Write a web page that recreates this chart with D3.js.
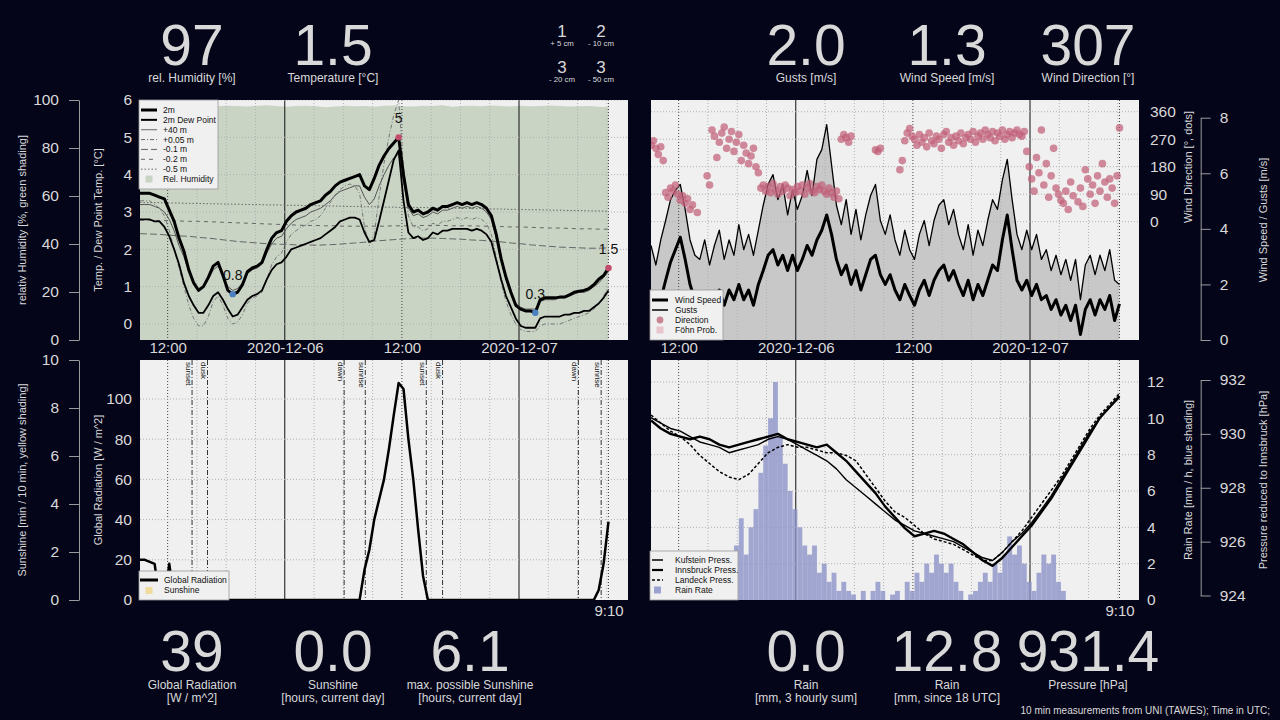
<!DOCTYPE html>
<html><head><meta charset="utf-8">
<script src="https://cdn.jsdelivr.net/npm/d3@7"></script>
<style>
html,body{margin:0;padding:0;background:#05051a;}
svg{display:block;font-family:"Liberation Sans",Arial,Helvetica,sans-serif;}
</style></head><body>
<svg id="c" width="1280" height="720"></svg>
<script>
// ---------- DATA (30-min series start 2020-12-05 09:10 UTC) ----------
const temp2m = [3.5,3.5,3.5,3.45,3.4,3.35,3.05,2.75,2.3,1.95,1.45,1.1,0.9,1.0,1.25,1.55,1.65,1.3,0.9,0.8,0.85,1.05,1.4,1.5,1.55,1.65,2.0,2.3,2.45,2.5,2.75,2.9,3.0,3.05,3.1,3.2,3.25,3.3,3.45,3.55,3.7,3.8,3.85,3.9,3.95,4.0,3.7,3.6,3.9,4.25,4.5,4.7,4.85,5.0,4.0,3.2,3.0,3.05,2.95,3.0,3.1,3.05,3.15,3.15,3.2,3.25,3.2,3.25,3.2,3.25,3.2,3.1,2.9,2.4,1.75,1.25,0.85,0.5,0.4,0.35,0.35,0.3,0.65,0.7,0.7,0.7,0.72,0.72,0.78,0.85,0.88,0.9,0.95,1.05,1.2,1.3,1.5];
const dewPoint = [2.8,2.8,2.8,2.75,2.75,2.6,2.35,2.0,1.6,1.1,0.75,0.5,0.3,0.3,0.5,0.75,0.85,0.65,0.4,0.2,0.25,0.45,0.65,0.75,0.8,0.9,1.2,1.45,1.6,1.65,1.8,2.0,2.05,2.1,2.15,2.2,2.25,2.3,2.4,2.5,2.6,2.75,2.8,2.85,2.85,2.8,2.45,2.2,2.25,2.75,3.3,3.85,4.4,4.65,3.3,2.45,2.3,2.35,2.25,2.3,2.45,2.4,2.5,2.5,2.55,2.55,2.55,2.55,2.5,2.55,2.5,2.4,2.2,1.7,1.2,0.75,0.45,0.15,-0.05,-0.1,-0.1,-0.1,0.15,0.2,0.2,0.2,0.2,0.25,0.25,0.3,0.3,0.35,0.35,0.45,0.55,0.7,0.9];
const temp40m = [3.2,3.2,3.2,3.15,3.1,3.0,2.8,2.5,2.1,1.8,1.4,1.1,0.95,1.0,1.2,1.45,1.55,1.3,1.0,0.9,0.95,1.1,1.35,1.45,1.5,1.6,1.9,2.15,2.3,2.35,2.55,2.7,2.8,2.85,2.9,3.0,3.05,3.1,3.2,3.3,3.45,3.55,3.6,3.65,3.7,3.7,3.4,3.2,3.35,3.7,4.0,4.25,4.45,4.55,3.8,3.1,2.9,2.95,2.85,2.9,3.0,2.95,3.05,3.05,3.1,3.15,3.1,3.15,3.1,3.15,3.1,3.0,2.8,2.3,1.7,1.2,0.85,0.55,0.45,0.4,0.4,0.4,0.6,0.65,0.65,0.65,0.7,0.7,0.75,0.8,0.85,0.85,0.9,1.0,1.1,1.25,1.4];
const temp5cm = [3.3,3.3,3.3,3.2,3.1,2.9,2.5,2.0,1.5,1.0,0.5,0.15,-0.05,-0.05,0.2,0.6,0.75,0.5,0.15,0.0,0.05,0.25,0.55,0.7,0.75,0.85,1.2,1.6,1.8,1.9,2.2,2.4,2.5,2.6,2.65,2.75,2.8,2.9,3.1,3.25,3.45,3.6,3.7,3.75,3.7,3.5,2.6,2.1,2.4,3.4,4.3,5.0,5.6,6.0,4.2,2.9,2.6,2.6,2.5,2.55,2.7,2.65,2.75,2.75,2.8,2.85,2.8,2.85,2.8,2.85,2.8,2.7,2.4,1.8,1.1,0.6,0.25,0.0,-0.15,-0.2,-0.2,-0.2,-0.05,0.0,0.0,0.0,0.0,0.05,0.1,0.15,0.2,0.25,0.3,0.4,0.55,0.75,1.0];
const windSpeed = [1.45,0.9,1.45,2.15,2.8,3.25,3.7,2.9,2.0,1.45,1.25,1.6,1.1,1.45,1.8,1.25,1.8,1.45,2.0,1.45,1.8,1.25,2.0,2.5,3.05,3.25,2.7,3.05,2.5,3.05,2.5,2.9,3.4,3.05,3.6,3.95,4.5,3.8,2.9,2.35,2.7,2.0,2.5,1.8,2.35,2.9,3.05,2.35,2.0,2.35,1.8,1.45,2.0,1.6,1.25,1.8,2.15,1.6,2.15,2.5,2.7,2.15,2.5,2.0,1.6,2.15,1.45,2.0,1.6,2.15,2.7,2.5,3.6,4.5,3.25,2.15,1.8,2.15,1.6,2.0,1.45,1.6,1.1,1.45,0.9,1.25,0.7,1.25,0.2,1.1,1.45,0.9,1.45,1.1,1.6,0.7,1.3];
const gusts = [3.4,2.7,3.6,4.3,5.05,5.4,5.6,4.7,3.6,3.05,2.9,3.6,2.7,3.4,3.95,2.9,3.6,3.05,4.15,3.25,3.8,3.05,3.95,4.85,5.6,5.95,5.05,5.6,4.5,5.4,4.7,5.2,6.1,5.2,6.5,6.85,7.75,6.3,4.85,4.15,5.05,3.8,4.7,3.6,4.5,5.2,5.6,4.3,3.8,4.5,3.6,3.05,3.95,3.25,2.9,3.8,4.3,3.4,4.3,4.85,5.05,4.15,4.7,3.8,3.25,4.15,3.05,3.95,3.4,4.3,5.05,4.7,5.75,6.5,5.05,3.8,3.25,3.95,3.25,3.8,2.9,3.25,2.5,3.05,2.35,2.9,2.15,2.9,1.45,2.7,3.05,2.35,3.05,2.5,3.25,2.15,2.0];
const rainRate = [0,0,0,0,0,0,0,0,0,0,0,0,0,0,0,0,1.5,3,4.5,2.5,4,5,7,8.5,10,12,9,7.5,6,5,4,3,2.5,3,1.5,2,1,1.5,0.5,1,0.5,0.3,0,0.5,0,0.5,1,0.5,0,0.3,0.5,0,1,0.5,1.5,1,2,1.5,2.5,2,1.5,2,1,0.5,0,0.3,0.5,1,1.5,1,2,1.5,2.5,3.5,2.5,3,2,1,0.5,1.5,2.5,2,2.5,1,0.5,0,0,0,0,0,0,0,0,0,0,0,0];
const globalRad = [20,20,19,18,0,0,18,0,0,0,0,0,0,0,0,0,0,0,0,0,0,0,0,0,0,0,0,0,0,0,0,0,0,0,0,0,0,0,0,0,0,0,0,0,0,0,15,25,40,50,60,75,92,108,105,80,60,35,12,0,0,0,0,0,0,0,0,0,0,0,0,0,0,0,0,0,0,0,0,0,0,0,0,0,0,0,0,0,0,0,0,0,0,0,5,18,39];
// 15-min wind direction
const windDir = [250,265,240,220,245,200,95,80,110,100,
 120,90,70,85,60,75,40,55,null,30,
 null,null,null,150,120,300,280,210,260,290,
 310,240,270,295,230,260,285,200,250,225,
 190,215,240,180,160,110,120,100,115,95,
 125,105,90,115,100,120,110,85,105,95,
 115,100,120,90,110,125,100,95,115,105,
 120,100,90,110,95,80,100,75,270,285,
 275,260,280,null,null,null,null,null,null,null,
 null,null,235,230,240,null,null,null,null,null,
 null,null,170,200,265,290,305,280,270,250,
 285,260,275,245,290,265,255,280,270,240,
 285,295,260,275,250,280,265,290,255,275,
 285,270,295,260,280,290,270,300,285,275,
 295,265,290,280,300,270,285,295,275,290,
 300,285,280,295,230,180,140,100,210,160,
 300,120,190,80,150,240,110,90,70,60,
 100,40,130,85,null,65,110,50,170,140,
 90,120,60,150,100,190,130,80,140,110,
 60,150,307];
// hourly series
const humidity = [96.0,96.2,96.0,96.5,96.8,97.0,97.2,97.5,97.4,97.6,97.5,97.3,97.6,97.8,97.5,97.2,97.5,97.6,97.4,97.0,97.3,97.6,97.4,97.5,97.2,97.6,97.7,97.4,97.3,97.6,97.5,97.8,97.2,97.5,97.6,97.4,97.7,97.5,97.3,97.6,97.4,97.5,97.7,97.5,97.3,97.4,97.5,97.2,97.0];
const soil10 = [2.42,2.41,2.40,2.38,2.36,2.35,2.32,2.30,2.27,2.24,2.21,2.19,2.17,2.15,2.14,2.13,2.12,2.12,2.11,2.12,2.13,2.15,2.17,2.19,2.22,2.24,2.26,2.28,2.29,2.30,2.30,2.29,2.28,2.27,2.25,2.24,2.22,2.20,2.17,2.15,2.12,2.10,2.08,2.06,2.05,2.04,2.03,2.03,2.04];
const soil20 = [2.78,2.78,2.77,2.77,2.76,2.75,2.75,2.74,2.73,2.72,2.71,2.70,2.69,2.68,2.67,2.66,2.65,2.64,2.64,2.63,2.63,2.62,2.62,2.62,2.62,2.62,2.63,2.63,2.63,2.64,2.64,2.64,2.63,2.63,2.63,2.62,2.62,2.61,2.60,2.60,2.59,2.58,2.57,2.57,2.56,2.55,2.55,2.54,2.54];
const soil50 = [3.26,3.25,3.25,3.24,3.24,3.23,3.23,3.22,3.22,3.21,3.21,3.20,3.20,3.19,3.19,3.18,3.18,3.17,3.17,3.16,3.16,3.15,3.15,3.14,3.14,3.13,3.13,3.12,3.12,3.12,3.11,3.11,3.10,3.10,3.09,3.09,3.08,3.08,3.07,3.07,3.06,3.06,3.05,3.05,3.04,3.04,3.03,3.03,3.02];
const sunshine = [0,0,0,0,0,0,0,0,0,0,0,0,0,0,0,0,0,0,0,0,0,0,0,0,0,0,0,0,0,0,0,0,0,0,0,0,0,0,0,0,0,0,0,0,0,0,0,0,0];
const pressKufstein = [930.6,930.4,930.2,930.1,929.9,929.7,929.6,929.5,929.3,929.4,929.5,929.6,929.8,929.9,929.8,929.6,929.4,929.2,929.0,928.7,928.3,928.0,927.7,927.4,927.1,926.8,926.6,926.4,926.3,926.2,926.1,926.0,925.8,925.6,925.4,925.3,925.6,926.0,926.3,926.7,927.2,927.7,928.3,928.9,929.5,930.1,930.6,931.0,931.35];
const pressInnsbruck = [930.5,930.2,930.0,929.9,929.8,929.9,929.8,929.6,929.5,929.6,929.7,929.8,929.9,930.0,929.8,929.7,929.6,929.5,929.6,929.3,929.0,928.6,928.2,927.8,927.3,926.9,926.5,926.2,926.3,926.4,926.3,926.1,925.9,925.6,925.3,925.1,925.4,925.8,926.2,926.6,927.1,927.6,928.2,928.8,929.4,930.0,930.6,931.0,931.4];
const pressLandeck = [930.7,930.4,930.1,929.9,929.6,929.2,928.9,928.6,928.4,928.3,928.5,928.9,929.3,929.5,929.6,929.5,929.5,929.4,929.3,929.3,929.2,929.0,928.5,928.0,927.5,927.1,926.9,926.6,926.3,926.1,926.0,925.9,925.7,925.5,925.3,925.3,925.6,926.0,926.4,926.9,927.4,927.9,928.4,929.0,929.6,930.2,930.7,931.1,931.5];
// sun events (UTC) and summary values
const sunEvents = ["2020-12-05T14:30Z","2020-12-05T16:05Z","2020-12-06T06:05Z","2020-12-06T08:15Z","2020-12-06T14:30Z","2020-12-06T16:10Z","2020-12-07T06:05Z","2020-12-07T08:25Z"];
const sunLabels = ["sunset","dusk","dawn","sunrise","sunset","dusk","dawn","sunrise"];
const summaryValues = {sunshineDay:0.0, maxSunshine:6.1, rain3h:0.0, rain18:12.8};

// ---------- SETUP ----------
const svg = d3.select('#c');
const FG = '#d9d9d9';
const T0 = Date.UTC(2020,11,5,9,10), HR = 3600000;
const t30 = temp2m.map((d,i)=> new Date(T0 + i*HR/2));
const t15 = windDir.map((d,i)=> new Date(T0 + i*HR/4));
const t60 = humidity.map((d,i)=> new Date(T0 + i*HR));
const NOW = t30[t30.length-1];
const dom = [new Date(T0), new Date(T0 + 50*HR)];
const xL = d3.scaleUtc().domain(dom).range([140,628]);
const xR = d3.scaleUtc().domain(dom).range([651,1139]);
const TOP=[100,340], BOT=[360,600];

const yHum = d3.scaleLinear().domain([0,100]).range([340,100]);
const yTemp = d3.scaleLinear().domain([0,6]).range([324,100]);
const yWind = d3.scaleLinear().domain([0,8]).range([340,117.7]);
const yDir = d3.scaleLinear().domain([0,360]).range([221.7,111.7]);
const ySun = d3.scaleLinear().domain([0,10]).range([600,360]);
const yRad = d3.scaleLinear().domain([0,100]).range([600,399]);
const yRain = d3.scaleLinear().domain([0,12]).range([600,382]);
const yPres = d3.scaleLinear().domain([924,932]).range([595.5,380]);

svg.append('rect').attr('width',1280).attr('height',720).attr('fill','#05051a');

function panel(x, yr, id){
  const [x0,x1]=x.range();
  svg.append('rect').attr('x',x0).attr('y',yr[0]).attr('width',x1-x0).attr('height',yr[1]-yr[0]).attr('fill','#f0f0f0');
  svg.append('clipPath').attr('id',id).append('rect').attr('x',x0).attr('y',yr[0]).attr('width',x1-x0).attr('height',yr[1]-yr[0]);
  return svg.append('g').attr('clip-path',`url(#${id})`);
}
function vgrid(g, x, yr){
  const h3 = d3.utcHour.every(3).range(dom[0], dom[1]);
  g.selectAll(null).data(h3).join('line').attr('x1',d=>x(d)).attr('x2',d=>x(d)).attr('y1',yr[0]).attr('y2',yr[1])
    .attr('stroke', d=> d.getUTCHours()===0 ? '#111' : (d.getUTCHours()===12 ? '#444' : '#b0b0b0'))
    .attr('stroke-width',1).attr('stroke-dasharray', d=> d.getUTCHours()===0 ? null : '1,2');
  g.append('line').attr('x1',x(NOW)).attr('x2',x(NOW)).attr('y1',yr[0]).attr('y2',yr[1]).attr('stroke','#444').attr('stroke-dasharray','1,2');
}
function hgrid(g, x, y, vals){
  const [x0,x1]=x.range();
  g.selectAll(null).data(vals).join('line').attr('x1',x0).attr('x2',x1).attr('y1',d=>y(d)).attr('y2',d=>y(d))
    .attr('stroke','#b0b0b0').attr('stroke-dasharray','1,2');
}
function path(g, xs, ys, x, y, opt){
  const line = d3.line().defined(d=>d[1]!=null).x(d=>x(d[0])).y(d=>y(d[1]));
  g.append('path').datum(xs.map((t,i)=>[t,ys[i]])).attr('d',line).attr('fill','none')
    .attr('stroke',opt.c||'#000').attr('stroke-width',opt.w||1).attr('stroke-dasharray',opt.dash||null)
    .attr('stroke-linejoin','round');
}
function styleAxis(g, size){
  g.selectAll('text').attr('fill',FG).style('font-size',(size||15.5)+'px').style('font-family','"Liberation Sans",Arial,sans-serif');
  g.selectAll('line').attr('stroke','#9a9a9a');
  g.selectAll('path.domain').attr('stroke','#9a9a9a');
}
function outerAxis(axisFn, y, xpos, vals, right){
  const a = axisFn(y).tickValues(vals).tickSize(10).tickSizeOuter(0).tickPadding(right?9:10).tickFormat(d3.format('d'));
  const g = svg.append('g').attr('transform',`translate(${xpos},0)`).call(a);
  styleAxis(g);
}
function innerAxis(axisFn, y, xpos, vals, pad){
  const a = axisFn(y).tickValues(vals).tickSize(0).tickPadding(pad).tickFormat(d3.format('d'));
  const g = svg.append('g').attr('transform',`translate(${xpos},0)`).call(a);
  g.select('.domain').remove();
  styleAxis(g);
}
function vtitle(txt, x, y){
  svg.append('text').attr('transform',`translate(${x},${y}) rotate(-90)`).attr('text-anchor','middle').attr('dy','0.35em')
    .attr('fill',FG).style('font-size','11px').text(txt);
}
function legend(box, rowY, sx, tx, items){
  const g = svg.append('g');
  g.append('rect').attr('x',box[0]).attr('y',box[1]).attr('width',box[2]-box[0]).attr('height',box[3]-box[1])
    .attr('fill','#f0f0f0').attr('stroke','#9a9a9a').attr('stroke-width',0.8);
  items.forEach((it,k)=>{
    const yy = rowY[0] + k*rowY[1];
    if(it.type==='line') g.append('line').attr('x1',sx[0]).attr('x2',sx[1]).attr('y1',yy).attr('y2',yy)
      .attr('stroke',it.c).attr('stroke-width',it.w).attr('stroke-dasharray',it.dash||null);
    else if(it.type==='dot') g.append('circle').attr('cx',(sx[0]+sx[1])/2).attr('cy',yy).attr('r',3.4).attr('fill',it.c);
    else g.append('rect').attr('x',(sx[0]+sx[1])/2-3.5).attr('y',yy-3.5).attr('width',7).attr('height',7).attr('fill',it.c);
    g.append('text').attr('x',tx).attr('y',yy).attr('dy','0.35em').attr('fill','#111').style('font-size','8.5px').text(it.label);
  });
}
function timeLabels(x){
  const ticks = d3.utcHour.every(12).range(dom[0], dom[1]);
  const a = d3.axisBottom(x).tickValues(ticks).tickSize(0).tickPadding(2)
    .tickFormat(d => d.getUTCHours()===0 ? d3.utcFormat('%Y-%m-%d')(d) : d3.utcFormat('%H:%M')(d));
  const g = svg.append('g').attr('transform','translate(0,340)').call(a);
  g.select('.domain').remove(); styleAxis(g, 15);
}
function nowLabel(x){
  const a = d3.axisBottom(x).tickValues([NOW]).tickSize(0).tickPadding(5).tickFormat(d3.utcFormat('%-H:%M'));
  const g = svg.append('g').attr('transform','translate(0,600)').call(a);
  g.select('.domain').remove(); styleAxis(g, 15);
}

// ---------- TOP-LEFT: temperatures ----------
{
  const g = panel(xL, TOP, 'cpTL');
  g.append('path').datum(humidity.map((v,i)=>[t60[i],v]))
    .attr('d', d3.area().x(d=>xL(d[0])).y0(yHum(0)).y1(d=>yHum(d[1])))
    .attr('fill','#c9d4c5');
  vgrid(g, xL, TOP);
  hgrid(g, xL, yTemp, [0,1,2,3,4,5,6]);
  path(g, t60, soil50, xL, yTemp, {c:'#666', w:1, dash:'1.5,2'});
  path(g, t60, soil20, xL, yTemp, {c:'#666', w:1, dash:'4,4'});
  path(g, t60, soil10, xL, yTemp, {c:'#666', w:1, dash:'7,3'});
  path(g, t30, temp5cm, xL, yTemp, {c:'#777', w:1, dash:'4,2,1,2'});
  path(g, t30, temp40m, xL, yTemp, {c:'#555', w:1});
  path(g, t30, dewPoint, xL, yTemp, {c:'#000', w:1.8});
  path(g, t30, temp2m, xL, yTemp, {c:'#000', w:3});
  const iMin1 = d3.minIndex(temp2m.slice(0,40));
  const iMax = 30 + d3.maxIndex(temp2m.slice(30,70));
  const iMin2 = 60 + d3.minIndex(temp2m.slice(60));
  const iLast = temp2m.length-1;
  [[iMin1,'#4a7fc0'],[iMax,'#c24d6b'],[iMin2,'#4a7fc0'],[iLast,'#c24d6b']].forEach(([i,c])=>{
    const px = xL(t30[i]), py = yTemp(temp2m[i]);
    g.append('circle').attr('cx',px).attr('cy',py).attr('r',3.2).attr('fill',c);
    g.append('text').attr('x',px).attr('y',py-14).attr('text-anchor','middle').attr('fill','#111').style('font-size','14px')
      .text(String(+temp2m[i].toFixed(1)));
  });
  legend([139,100,218,189],[110,9.86],[141,157],163,[
    {label:'2m',type:'line',c:'#000',w:3},
    {label:'2m Dew Point',type:'line',c:'#000',w:2},
    {label:'+40 m',type:'line',c:'#666',w:1},
    {label:'+0.05 m',type:'line',c:'#666',w:1,dash:'4,2,1,2'},
    {label:'-0.1 m',type:'line',c:'#666',w:1,dash:'7,3'},
    {label:'-0.2 m',type:'line',c:'#666',w:1,dash:'4,4'},
    {label:'-0.5 m',type:'line',c:'#666',w:1,dash:'1.5,2'},
    {label:'Rel. Humidity',type:'square',c:'#c9d4c5'}]);
  outerAxis(d3.axisLeft, yHum, 79, [0,20,40,60,80,100]);
  innerAxis(d3.axisLeft, yTemp, 140, [0,1,2,3,4,5,6], 8);
  vtitle('relativ Humidity [%, green shading]', 22, 220);
  vtitle('Temp. / Dew Point Temp. [°C]', 98, 220);
  timeLabels(xL);
}

// ---------- TOP-RIGHT: wind ----------
{
  const g = panel(xR, TOP, 'cpTR');
  g.append('path').datum(gusts.map((v,i)=>[t30[i],v]))
    .attr('d', d3.area().x(d=>xR(d[0])).y0(yWind(0)).y1(d=>yWind(d[1]))).attr('fill','#c8c8c8');
  vgrid(g, xR, TOP);
  hgrid(g, xR, yDir, [0,90,180,270,360]);
  path(g, t30, gusts, xR, yWind, {c:'#000', w:1.3});
  path(g, t30, windSpeed, xR, yWind, {c:'#000', w:3});
  g.selectAll(null).data(windDir.map((v,i)=>[t15[i],v]).filter(d=>d[1]!=null)).join('circle')
    .attr('cx',d=>xR(d[0])).attr('cy',d=>yDir(d[1])).attr('r',3.8).attr('fill','#c06078').attr('fill-opacity',0.72);
  legend([650,290,723,340],[300,10],[652,668],675,[
    {label:'Wind Speed',type:'line',c:'#000',w:3},
    {label:'Gusts',type:'line',c:'#000',w:1.5},
    {label:'Direction',type:'dot',c:'#c98594'},
    {label:'Föhn Prob.',type:'square',c:'#e8c4cc'}]);
  innerAxis(d3.axisRight, yDir, 1139, [0,90,180,270,360], 11);
  outerAxis(d3.axisRight, yWind, 1200.7, [0,2,4,6,8], true);
  vtitle('Wind Direction [°, dots]', 1188, 167);
  vtitle('Wind Speed  / Gusts [m/s]', 1263, 220);
  timeLabels(xR);
}

// ---------- BOTTOM-LEFT: radiation ----------
{
  const g = panel(xL, BOT, 'cpBL');
  g.append('path').datum(sunshine.map((v,i)=>[t60[i],v]))
    .attr('d', d3.area().x(d=>xL(d[0])).y0(ySun(0)).y1(d=>ySun(d[1]))).attr('fill','#f0dc9c');
  vgrid(g, xL, BOT);
  hgrid(g, xL, yRad, [20,40,60,80,100]);
  sunEvents.forEach((s,k)=>{
    const px = xL(new Date(s));
    g.append('line').attr('x1',px).attr('x2',px).attr('y1',BOT[0]).attr('y2',BOT[1]).attr('stroke','#333').attr('stroke-dasharray','5,2,1,2');
    g.append('text').attr('transform',`translate(${px-6.5},${BOT[0]+2}) rotate(90)`).attr('fill','#222').style('font-size','8px').text(sunLabels[k]);
  });
  path(g, t30, globalRad, xL, yRad, {c:'#000', w:2.5});
  legend([139,571,229,600],[580,10.5],[140,158],164,[
    {label:'Global Radiation',type:'line',c:'#000',w:3},
    {label:'Sunshine',type:'square',c:'#f0dc9c'}]);
  outerAxis(d3.axisLeft, ySun, 79, [0,2,4,6,8,10]);
  innerAxis(d3.axisLeft, yRad, 140, [0,20,40,60,80,100], 8);
  vtitle('Sunshine [min / 10 min, yellow shading]', 22, 480);
  vtitle('Global Radiation [W / m^2]', 98, 480);
  nowLabel(xL);
}

// ---------- BOTTOM-RIGHT: rain & pressure ----------
{
  const g = panel(xR, BOT, 'cpBR');
  vgrid(g, xR, BOT);
  hgrid(g, xR, yRain, [2,4,6,8,10,12]);
  g.selectAll(null).data(rainRate.map((v,i)=>[t30[i],v]).filter(d=>d[1]>0)).join('rect')
    .attr('x',d=>xR(d[0])).attr('width',d=>xR(new Date(+d[0]+HR/2))-xR(d[0]))
    .attr('y',d=>yRain(d[1])).attr('height',d=>yRain(0)-yRain(d[1])).attr('fill','#8d94c9').attr('fill-opacity',0.8);
  path(g, t60, pressKufstein, xR, yPres, {c:'#000', w:1.4});
  path(g, t60, pressLandeck, xR, yPres, {c:'#000', w:1.5, dash:'3,2'});
  path(g, t60, pressInnsbruck, xR, yPres, {c:'#000', w:2.4});
  legend([650,551,738,600],[560,10],[652,663],675,[
    {label:'Kufstein Press.',type:'line',c:'#000',w:1.5},
    {label:'Innsbruck Press.',type:'line',c:'#000',w:2.2},
    {label:'Landeck Press.',type:'line',c:'#000',w:1.5,dash:'3,2'},
    {label:'Rain Rate',type:'square',c:'#9ba1d0'}]);
  innerAxis(d3.axisRight, yRain, 1139, [0,2,4,6,8,10,12], 8);
  outerAxis(d3.axisRight, yPres, 1200.7, [924,926,928,930,932], true);
  vtitle('Rain Rate [mm / h, blue shading]', 1188, 480);
  vtitle('Pressure reduced to Innsbruck [hPa]', 1263, 480);
  nowLabel(xR);
}

// ---------- BIG NUMBERS ----------
const last = a => a[a.length-1];
const f0 = d3.format('.0f'), f1 = d3.format('.1f');
const topNums = [
  {v:f0(last(humidity)), l:'rel. Humidity [%]', x:192},
  {v:f1(last(temp2m)), l:'Temperature [°C]', x:333},
  {v:f1(last(gusts)), l:'Gusts [m/s]', x:806},
  {v:f1(last(windSpeed)), l:'Wind Speed [m/s]', x:947},
  {v:f0(last(windDir)), l:'Wind Direction [°]', x:1088}];
topNums.forEach(d=>{
  svg.append('text').attr('x',d.x).attr('y',65).attr('text-anchor','middle').attr('fill',FG).style('font-size','57px').text(d.v);
  svg.append('text').attr('x',d.x).attr('y',82).attr('text-anchor','middle').attr('fill',FG).style('font-size','12px').text(d.l);
});
const soil = [
  {v:f0(last(temp5cm)), l:'+ 5 cm', x:562, y:37},
  {v:f0(last(soil10)), l:'- 10 cm', x:601, y:37},
  {v:f0(last(soil20)), l:'- 20 cm', x:562, y:73},
  {v:f0(last(soil50)), l:'- 50 cm', x:601, y:73}];
soil.forEach(d=>{
  svg.append('text').attr('x',d.x).attr('y',d.y).attr('text-anchor','middle').attr('fill',FG).style('font-size','17px').text(d.v);
  svg.append('text').attr('x',d.x).attr('y',d.y+9).attr('text-anchor','middle').attr('fill',FG).style('font-size','7.8px').text(d.l);
});
const botNums = [
  {v:f0(last(globalRad)), l:['Global Radiation','[W / m^2]'], x:192},
  {v:f1(summaryValues.sunshineDay), l:['Sunshine','[hours, current day]'], x:333},
  {v:f1(summaryValues.maxSunshine), l:['max. possible Sunshine','[hours, current day]'], x:470},
  {v:f1(summaryValues.rain3h), l:['Rain','[mm, 3 hourly sum]'], x:806},
  {v:f1(summaryValues.rain18), l:['Rain','[mm, since 18 UTC]'], x:947},
  {v:f1(last(pressInnsbruck)), l:['Pressure [hPa]'], x:1088}];
botNums.forEach(d=>{
  svg.append('text').attr('x',d.x).attr('y',671).attr('text-anchor','middle').attr('fill',FG).style('font-size','57px').text(d.v);
  d.l.forEach((s,k)=> svg.append('text').attr('x',d.x).attr('y',689+k*13).attr('text-anchor','middle').attr('fill',FG).style('font-size','12px').text(s));
});
svg.append('text').attr('x',1270).attr('y',714).attr('text-anchor','end').attr('fill',FG).style('font-size','10px')
  .text('10 min measurements from UNI (TAWES); Time in UTC;');
</script>
</body></html>
